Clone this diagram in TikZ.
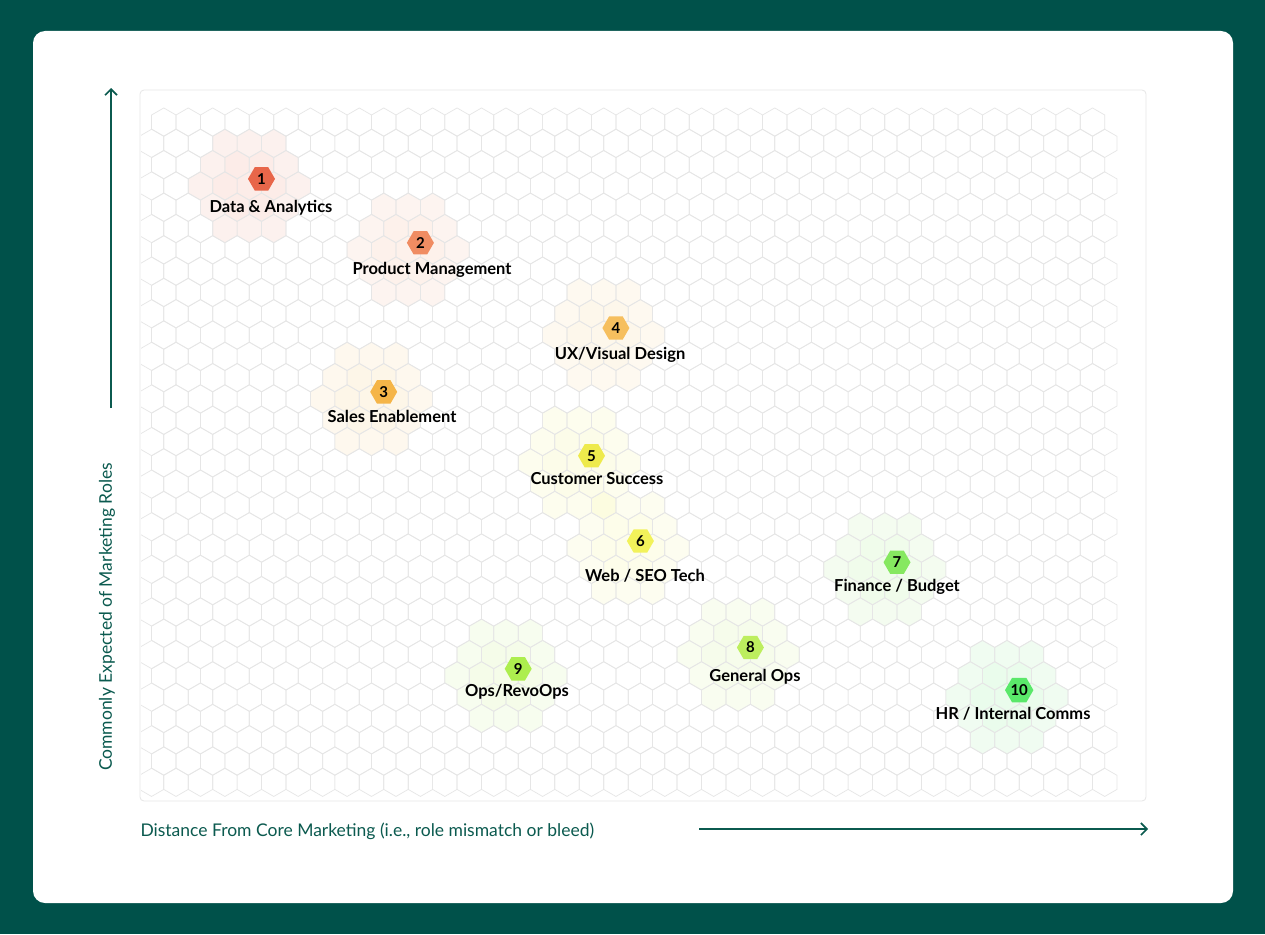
\documentclass[tikz,border=0pt]{standalone}
\usepackage{fontspec}
\setmainfont{Lato}
\usetikzlibrary{shapes.geometric,arrows.meta}
\definecolor{dkgreen}{HTML}{00514A}
\definecolor{axgreen}{HTML}{0B5A4F}
\definecolor{gridc}{HTML}{E6E6E6}
\definecolor{cA}{HTML}{E8664A}
\definecolor{cB}{HTML}{F08C62}
\definecolor{cC}{HTML}{F5B548}
\definecolor{cD}{HTML}{F6BF5E}
\definecolor{cE}{HTML}{EEEA4C}
\definecolor{cF}{HTML}{F2F25A}
\definecolor{cG}{HTML}{86E860}
\definecolor{cH}{HTML}{BDEE5E}
\definecolor{cI}{HTML}{ADEE4E}
\definecolor{cJ}{HTML}{5AE86A}
\newcommand\hexpath[3]{(#1,#2)++(90:#3)--++(150:#3)--++(210:#3)--++(270:#3)--++(330:#3)--++(30:#3)--cycle}
\tikzset{
  marker/.style={regular polygon,regular polygon sides=6,minimum size=27pt,inner sep=0pt,fill=#1,font=\bfseries\fontsize{15}{15}\selectfont},
  lbl/.style={font=\bfseries\fontsize{16.5}{17}\selectfont,text=black},
  axlbl/.style={font=\fontsize{17.5}{18}\selectfont,text=axgreen},
  axarrow/.style={draw=axgreen,line width=1.6pt,-{Straight Barb[length=6pt,width=12pt,line width=1.6pt]}}
}
\begin{document}
\begin{tikzpicture}[x=1pt,y=-1pt]
\fill[dkgreen] (0,0) rectangle (1265,934);
\fill[white,rounded corners=12pt] (33,31) rectangle (1233,903);
\draw[gridc,line width=0.8pt,rounded corners=4pt] (140,90) rectangle (1146,801);
% clusters
\foreach \mx/\my/\c in {261.5/178.9/cA,420.4/242.8/cB,383.7/391.9/cC,615.9/328/cD,591.5/455.8/cE,640.4/541/cF,897/562.3/cG,750.4/647.5/cH,518.2/668.8/cI,1019.2/690.1/cJ}{
  \foreach \dx/\dy in {48.88/0,-48.88/0,36.66/21.3,-36.66/21.3,36.66/-21.3,-36.66/-21.3,0/42.6,0/-42.6,24.44/42.6,-24.44/42.6,24.44/-42.6,-24.44/-42.6}{
    \fill[\c,opacity=0.09] \hexpath{\mx+\dx}{\my+\dy}{14.1};
  }
  \foreach \dx/\dy in {24.44/0,-24.44/0,12.22/21.3,-12.22/21.3,12.22/-21.3,-12.22/-21.3,0/0}{
    \fill[\c,opacity=0.12] \hexpath{\mx+\dx}{\my+\dy}{14.1};
  }
}
% grid
\begin{scope}
\clip (141,91) rectangle (1145,800);
\foreach \r in {0,...,31}{
  \pgfmathsetmacro\yy{115+21.3*\r}
  \pgfmathtruncatemacro\rp{mod(\r,2)}
  \ifnum\rp=0
    \foreach \n in {0,...,38}{\draw[gridc,line width=0.7pt] \hexpath{176+24.44*\n}{\yy}{14.1};}
  \else
    \foreach \n in {0,...,39}{\draw[gridc,line width=0.7pt] \hexpath{163.78+24.44*\n}{\yy}{14.1};}
  \fi
}
\end{scope}
% markers
\node[marker=cA] (m1) at (261.5,178.9) {1};
\node[marker=cB] (m2) at (420.4,242.8) {2};
\node[marker=cC] (m3) at (383.7,391.9) {3};
\node[marker=cD] (m4) at (615.9,328) {4};
\node[marker=cE] (m5) at (591.5,455.8) {5};
\node[marker=cF] (m6) at (640.4,541) {6};
\node[marker=cG] (m7) at (897,562.3) {7};
\node[marker=cH] (m8) at (750.4,647.5) {8};
\node[marker=cI] (m9) at (518.2,668.8) {9};
\node[marker=cJ] (m10) at (1019.2,690.1) {10};
\node[lbl] (l1) at (271,208) {Data \& Analytics};
\node[lbl] (l2) at (432,270) {Product Management};
\node[lbl] (l3) at (392,416) {Sales Enablement};
\node[lbl] (l4) at (620,355) {UX/Visual Design};
\node[lbl] (l5) at (597,479) {Customer Success};
\node[lbl] (l6) at (645,576) {Web / SEO Tech};
\node[lbl] (l7) at (897,587) {Finance / Budget};
\node[lbl] (l8) at (755,677) {General Ops};
\node[lbl] (l9) at (517,692) {Ops/RevoOps};
\node[lbl] (l10) at (1013,714) {HR / Internal Comms};
% axes
\node[axlbl,rotate=90] (ylab) at (107,617) {Commonly Expected of Marketing Roles};
\coordinate (ys) at (111,408);
\coordinate (ye) at (111,88);
\draw[axarrow] (ys) -- (ye);
\node[axlbl,anchor=west] (xlab) at (137,831) {Distance From Core Marketing (i.e., role mismatch or bleed)};
\coordinate (xs) at (699,829);
\coordinate (xe) at (1148,829);
\draw[axarrow] (xs) -- (xe);
\end{tikzpicture}
\end{document}
